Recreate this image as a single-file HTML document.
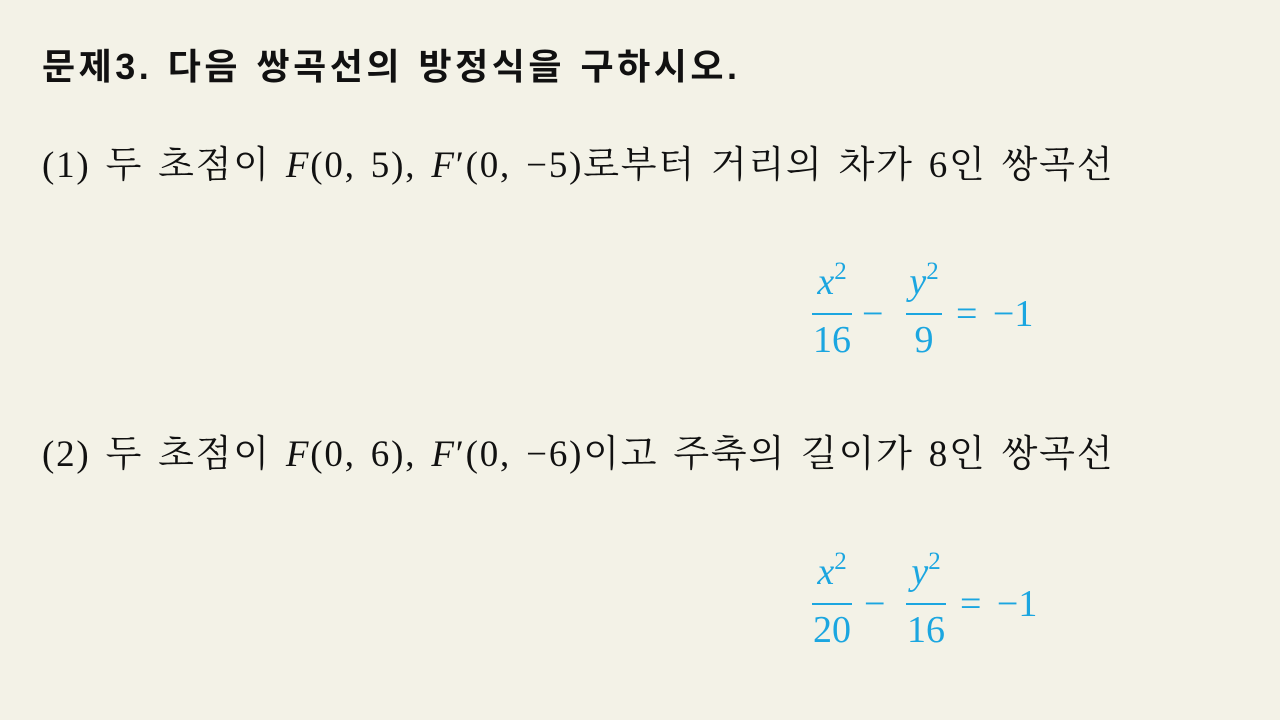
<!DOCTYPE html>
<html><head><meta charset="utf-8"><style>
html,body{margin:0;padding:0}
body{width:1280px;height:720px;background:#f3f2e7;position:relative;overflow:hidden;color:#111}
.t{position:absolute;white-space:nowrap}
.title{left:42px;top:38px;font:bold 36px "Liberation Sans","Noto Sans CJK KR",sans-serif;letter-spacing:3.5px;word-spacing:2px}
.line{font:37px "Liberation Serif","Noto Serif CJK SC",serif;left:42px;letter-spacing:1.8px;word-spacing:4px}
i{font-family:"Liberation Serif",serif;font-style:italic}
.frac{position:absolute;color:#1ba6e0;font:38px "Liberation Serif",serif}
.fr{position:absolute;text-align:center;white-space:nowrap}
.bar{position:absolute;height:2px;background:#1ba6e0}
sup{font-size:25px;vertical-align:15px;line-height:0}
</style></head><body>
<div class="t title">문제3. 다음 쌍곡선의 방정식을 구하시오.</div>
<div class="t line" style="top:134px">(1) 두 초점이 <i>F</i>(0, 5), <i>F</i>′(0, −5)로부터 거리의 차가 6인 쌍곡선</div>
<div class="frac" style="left:810px;top:260px;width:260px;height:100px">
  <div class="fr" style="left:0;top:0;width:44px"><i>x</i><sup>2</sup></div>
  <div class="bar" style="left:2px;top:53px;width:40px"></div>
  <div class="fr" style="left:0;top:58px;width:44px">16</div>
  <div class="fr" style="left:52px;top:32px">−</div>
  <div class="fr" style="left:94px;top:0;width:40px"><i>y</i><sup>2</sup></div>
  <div class="bar" style="left:96px;top:53px;width:36px"></div>
  <div class="fr" style="left:94px;top:58px;width:40px">9</div>
  <div class="fr" style="left:146px;top:32px;word-spacing:6px">= −1</div>
</div>
<div class="t line" style="top:423px">(2) 두 초점이 <i>F</i>(0, 6), <i>F</i>′(0, −6)이고 주축의 길이가 8인 쌍곡선</div>
<div class="frac" style="left:810px;top:550px;width:260px;height:100px">
  <div class="fr" style="left:0;top:0;width:44px"><i>x</i><sup>2</sup></div>
  <div class="bar" style="left:2px;top:53px;width:40px"></div>
  <div class="fr" style="left:0;top:58px;width:44px">20</div>
  <div class="fr" style="left:54px;top:32px">−</div>
  <div class="fr" style="left:96px;top:0;width:40px"><i>y</i><sup>2</sup></div>
  <div class="bar" style="left:96px;top:53px;width:40px"></div>
  <div class="fr" style="left:96px;top:58px;width:40px">16</div>
  <div class="fr" style="left:150px;top:32px;word-spacing:6px">= −1</div>
</div>
</body></html>
